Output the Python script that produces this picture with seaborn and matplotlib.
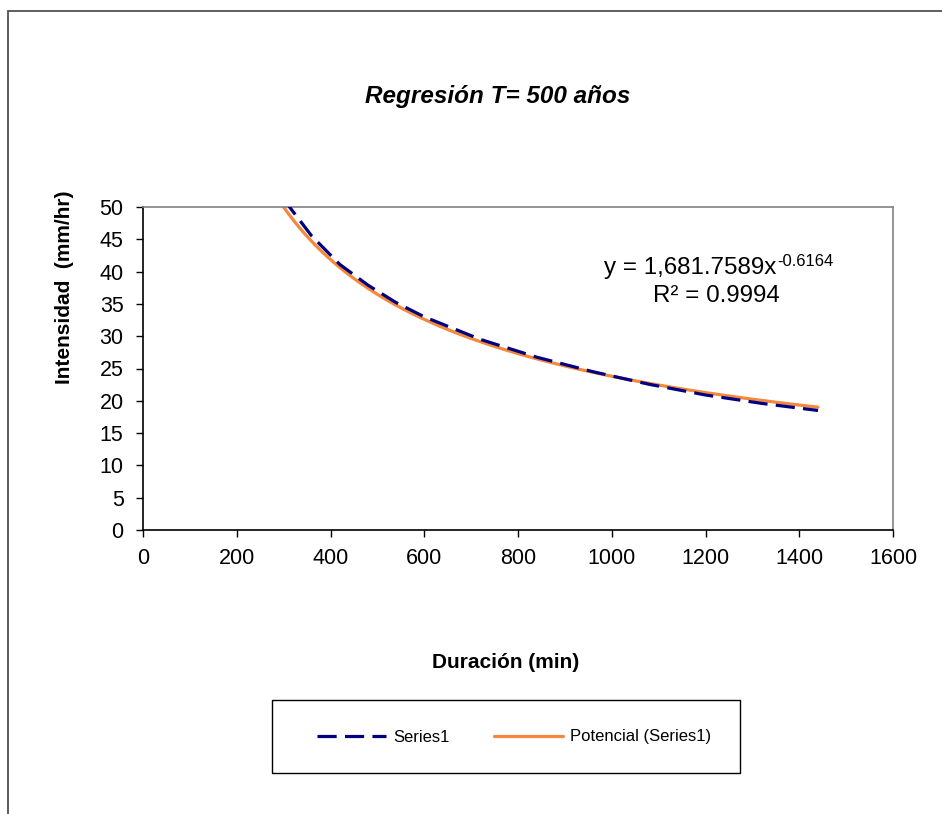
import numpy as np
import pandas as pd
import matplotlib
matplotlib.use("Agg")
import matplotlib.pyplot as plt
import seaborn as sns
from matplotlib.lines import Line2D
from matplotlib.patches import Rectangle

# ---- data ----
duracion = [300, 360, 420, 480, 540, 600, 720, 840, 960, 1080, 1200, 1320, 1440]
intensidad = [51.2, 45.5, 41.1, 37.9, 35.2, 33.0, 29.5, 26.75, 24.5, 22.55, 20.9, 19.6, 18.5]
trend_coef = 1681.7589
trend_exp = -0.6164
r2 = 0.9994
x_ticks = [0, 200, 400, 600, 800, 1000, 1200, 1400, 1600]
y_ticks = [0, 5, 10, 15, 20, 25, 30, 35, 40, 45, 50]
title = "Regresión T= 500 años"
xlabel = "Duración (min)"
ylabel = "Intensidad  (mm/hr)"
series_names = ["Series1", "Potencial (Series1)"]

sns.set_theme(style="white")
plt.rcParams['font.family'] = ['Liberation Sans', 'DejaVu Sans']
plt.rcParams['text.color'] = 'black'
plt.rcParams['xtick.color'] = 'black'
plt.rcParams['ytick.color'] = 'black'

W, H = 942, 814
fig = plt.figure(figsize=(W / 100, H / 100), dpi=100)
fig.patch.set_facecolor("white")

# outer chart border (left + top visible)
fig.patches.append(Rectangle((8 / W, -0.1), 1.2, (H - 11) / H + 0.1,
                             transform=fig.transFigure, fill=False,
                             edgecolor="#505050", linewidth=1.3))

ax = fig.add_axes([143 / W, 1 - 530 / H, (893 - 143) / W, (530 - 207) / H])

df = pd.DataFrame({"x": duracion, "y": intensidad})
xt = np.linspace(min(duracion), max(duracion), 300)
dft = pd.DataFrame({"x": xt, "y": trend_coef * xt ** trend_exp})

navy = "#000080"
orange = "#F4883C"
sns.lineplot(data=df, x="x", y="y", ax=ax, color=navy, linewidth=2.3,
             dashes=False, zorder=3)
ax.lines[-1].set_dashes([6, 2.6])
sns.lineplot(data=dft, x="x", y="y", ax=ax, color=orange, linewidth=2.3, zorder=2)

ax.set_xlim(0, 1600)
ax.set_ylim(0, 50)
ax.set_xticks(x_ticks)
ax.set_yticks(y_ticks)
ax.tick_params(axis="both", direction="out", length=5, width=1, color="black",
               labelsize=15.5, bottom=True, left=True, labelcolor="black")
ax.tick_params(axis="y", pad=9)
ax.tick_params(axis="x", pad=8)
for s in ["left", "bottom"]:
    ax.spines[s].set_color("black")
    ax.spines[s].set_linewidth(1.2)
for s in ["top", "right"]:
    ax.spines[s].set_color("#808080")
    ax.spines[s].set_linewidth(1.2)
ax.set_xlabel("")
ax.set_ylabel("")
ax.grid(False)

fig.text(498 / W, 1 - 97 / H, title, ha="center", va="center", color="black",
         fontsize=17.5, fontweight="bold", fontstyle="italic")
fig.text(506 / W, 1 - 663 / H, xlabel, ha="center", va="center", color="black",
         fontsize=15, fontweight="bold")
fig.text(65 / W, 1 - 287 / H, ylabel, ha="center", va="center", color="black",
         fontsize=15, fontweight="bold", rotation=90)

# trendline equation
fig.text(776 / W, 1 - 268 / H, "y = 1,681.7589x", ha="right", va="center",
         fontsize=17.4, color="black")
fig.text(777 / W, 1 - 262 / H, f"{trend_exp}", ha="left", va="center",
         fontsize=12, color="black")
fig.text(716 / W, 1 - 296 / H, f"R² = {r2}", ha="center", va="center",
         fontsize=17.4, color="black")

# legend box + entries
fig.patches.append(Rectangle((272 / W, 1 - 773 / H), (740 - 272) / W, 73 / H,
                             transform=fig.transFigure, fill=False,
                             edgecolor="black", linewidth=1.0))
handles = [Line2D([], [], color=navy, linewidth=2.3, dashes=[6, 2.6]),
           Line2D([], [], color=orange, linewidth=2.3)]
leg = fig.legend(handles, series_names, loc="center left",
                 bbox_to_anchor=(317 / W, 1 - 737 / H),
                 ncol=2, frameon=False, fontsize=12, handlelength=4.14,
                 columnspacing=2.7, borderpad=0, handletextpad=0.42,
                 borderaxespad=0, labelcolor="black")

fig.savefig("out.png", dpi=100)
